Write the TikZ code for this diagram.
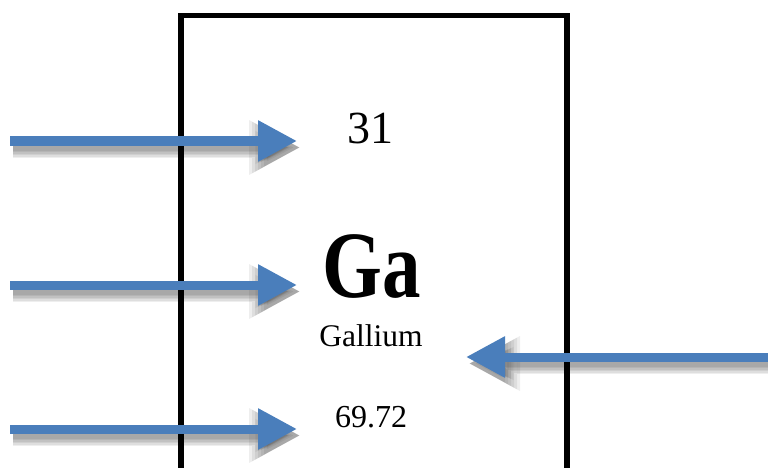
\documentclass[tikz,border=0pt]{standalone}
\usepackage{fontspec}
\setmainfont{Liberation Serif}
\usetikzlibrary{arrows.meta}
\definecolor{arrowblue}{HTML}{4A7EBB}
\begin{document}
\begin{tikzpicture}[x=1pt,y=-1pt,
  cellbox/.style={draw=black, line width=5.5pt, inner sep=0pt, anchor=north west,
    minimum width=386pt, minimum height=455.5pt},
  pointer/.style={draw=arrowblue, line width=9pt,
    -{Triangle[length=39pt,width=39pt]}},
  txt/.style={anchor=base, inner sep=0pt}]
\useasboundingbox (0,0) rectangle (768,468);
\node[cellbox] (cell) at (178,13) {};
% text
\node[txt, font=\fontsize{46}{50}\selectfont] (num) at (370,143) {31};
\node[txt, font=\fontsize{95}{100}\selectfont\bfseries, xscale=0.81] (sym) at (371.5,297) {Ga};
\node[txt, font=\fontsize{31.5}{35}\selectfont] (name) at (371,346.5) {Gallium};
\node[txt, font=\fontsize{32}{36}\selectfont] (mass) at (371,427) {69.72};
% arrow ends
\coordinate (t1) at (10,141);  \coordinate (h1) at (297,141);
\coordinate (t2) at (10,285);  \coordinate (h2) at (297,285);
\coordinate (t3) at (10,429);  \coordinate (h3) at (297,429);
\coordinate (t4) at (772,357); \coordinate (h4) at (466,357);
% soft shadows
\foreach \w/\e in {21/12, 18/9, 15/6, 12/3, 9/0, 6/-3}{
  \foreach \a/\b in {t1/h1, t2/h2, t3/h3, t4/h4}{
    \draw[draw=black, opacity=0.065, line width=\w pt,
      -{Triangle[length=39pt+\e pt,width=39pt+\e pt]},
      transform canvas={shift={(3,6.5)}}] (\a) -- (\b);
  }
}
% arrows
\draw[pointer] (t1) -- (h1);
\draw[pointer] (t2) -- (h2);
\draw[pointer] (t3) -- (h3);
\draw[pointer] (t4) -- (h4);
\end{tikzpicture}
\end{document}
